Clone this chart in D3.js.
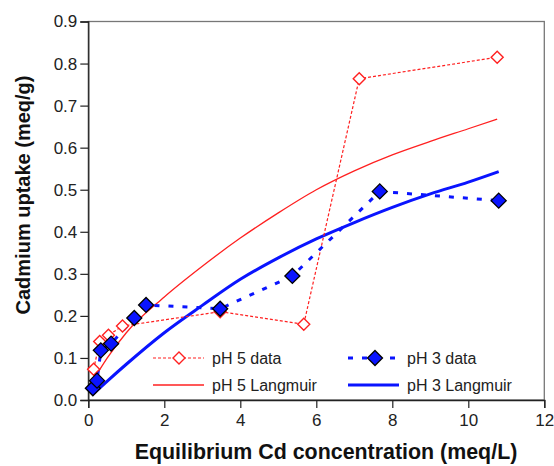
<!DOCTYPE html>
<html><head><meta charset="utf-8">
<script src="https://cdn.jsdelivr.net/npm/d3@7"></script>
<style>
html,body{margin:0;padding:0;background:#fff;}
text{font-family:"Liberation Sans",Arial,sans-serif;}
</style></head>
<body>
<svg id="chart" width="554" height="466"></svg>
<script>
// Data
const ph5X = [0.14, 0.30, 0.53, 0.90, 3.47, 5.67, 7.13, 10.76];
const ph5Y = [0.073, 0.139, 0.154, 0.176, 0.210, 0.180, 0.764, 0.815];
const ph3X = [0.12, 0.23, 0.33, 0.60, 1.21, 1.52, 3.47, 5.37, 7.67, 10.80];
const ph3Y = [0.028, 0.046, 0.118, 0.134, 0.195, 0.226, 0.217, 0.295, 0.496, 0.474];
const lang5X = [0.05, 0.5, 1, 2, 3, 4, 5, 6, 7, 8, 9, 10, 10.76];
const lang5Y = [0.035, 0.100, 0.160, 0.245, 0.318, 0.385, 0.445, 0.500, 0.545, 0.583, 0.615, 0.645, 0.668];
const lang3X = [0.1, 0.5, 1, 2, 3, 4, 5, 6, 7, 8, 9, 10, 10.8];
const lang3Y = [0.012, 0.045, 0.085, 0.160, 0.225, 0.287, 0.338, 0.383, 0.422, 0.458, 0.490, 0.518, 0.543];
const xTicks = [0, 2, 4, 6, 8, 10, 12];
const yTicks = [0, 0.1, 0.2, 0.3, 0.4, 0.5, 0.6, 0.7, 0.8, 0.9];
const legendLabels = ["pH 5 data", "pH 3 data", "pH 5 Langmuir", "pH 3 Langmuir"];

const svg = d3.select("#chart");
const L = 88.3, R = 544.3, T = 21.5, B = 400;
const x = d3.scaleLinear().domain([0, 12]).range([L, R]);
const y = d3.scaleLinear().domain([0, 0.9]).range([B, T]);

// frame
svg.append("rect").attr("x", L).attr("y", T).attr("width", R - L).attr("height", B - T)
  .attr("fill", "none").attr("stroke", "#777").attr("stroke-width", 1.3);

// axes
const xAxis = svg.append("g").attr("transform", `translate(0,${B})`)
  .call(d3.axisBottom(x).tickValues(xTicks).tickFormat(d3.format("d")).tickSize(8).tickPadding(6));
const yAxis = svg.append("g").attr("transform", `translate(${L},0)`)
  .call(d3.axisLeft(y).tickValues(yTicks).tickFormat(d3.format(".1f")).tickSize(8).tickPadding(3));
[xAxis, yAxis].forEach(g => {
  g.select(".domain").attr("stroke", "#222").attr("stroke-width", 1.3);
  g.selectAll(".tick line").attr("stroke", "#222").attr("stroke-width", 1.2);
  g.selectAll(".tick text").attr("font-size", 17).attr("fill", "#222")
    .style("font-family", "'Liberation Sans', Arial, sans-serif");
});

// axis titles
svg.append("text").attr("x", 326).attr("y", 459).attr("text-anchor", "middle")
  .attr("font-size", 21.4).attr("font-weight", "bold").attr("fill", "#111")
  .text("Equilibrium Cd concentration (meq/L)");
svg.append("text").attr("transform", "translate(30,195) rotate(-90)").attr("text-anchor", "middle")
  .attr("font-size", 20).attr("font-weight", "bold").attr("fill", "#111")
  .text("Cadmium uptake (meq/g)");

const line = d3.line().x(d => x(d[0])).y(d => y(d[1]));
const lang5 = lang5X.map((v, i) => [v, lang5Y[i]]);
const lang3 = lang3X.map((v, i) => [v, lang3Y[i]]);
const d5 = ph5X.map((v, i) => [v, ph5Y[i]]);
const d3s = ph3X.map((v, i) => [v, ph3Y[i]]);

const lineCurve = d3.line().x(d => x(d[0])).y(d => y(d[1])).curve(d3.curveMonotoneX);
svg.append("path").attr("d", lineCurve(lang5)).attr("fill", "none").attr("stroke", "#ff2020").attr("stroke-width", 1.3);
svg.append("path").attr("d", lineCurve(lang3)).attr("fill", "none").attr("stroke", "#0a14ff").attr("stroke-width", 3);

svg.append("path").attr("d", line(d5)).attr("fill", "none").attr("stroke", "#ff2020")
  .attr("stroke-width", 1.2).attr("stroke-dasharray", "3,2");
svg.append("path").attr("d", line(d3s)).attr("fill", "none").attr("stroke", "#0a14ff")
  .attr("stroke-width", 3).attr("stroke-dasharray", "5,9");

const diamond = (s) => `M0,${-s}L${s},0L0,${s}L${-s},0Z`;
svg.append("g").selectAll("path").data(d5).join("path")
  .attr("transform", d => `translate(${x(d[0])},${y(d[1])})`)
  .attr("d", diamond(6)).attr("fill", "#fff").attr("stroke", "#ff2020").attr("stroke-width", 1.4);
svg.append("g").selectAll("path").data(d3s).join("path")
  .attr("transform", d => `translate(${x(d[0])},${y(d[1])})`)
  .attr("d", diamond(7.5)).attr("fill", "#0a14ff").attr("stroke", "#000").attr("stroke-width", 1.3);

// legend
const lg = svg.append("g");
const items = [
  {lx: 153, ly: 358, color: "#ff2020", w: 1.2, dash: "3,2", marker: "open", label: legendLabels[0]},
  {lx: 348, ly: 358, color: "#0a14ff", w: 3, dash: "5,9", marker: "fill", label: legendLabels[1]},
  {lx: 153, ly: 385, color: "#ff2020", w: 1.3, dash: null, marker: null, label: legendLabels[2]},
  {lx: 348, ly: 385, color: "#0a14ff", w: 3, dash: null, marker: null, label: legendLabels[3]}
];
items.forEach(it => {
  const ln = lg.append("line").attr("x1", it.lx).attr("x2", it.lx + 51).attr("y1", it.ly).attr("y2", it.ly)
    .attr("stroke", it.color).attr("stroke-width", it.w);
  if (it.dash) ln.attr("stroke-dasharray", it.dash);
  if (it.marker === "open") lg.append("path").attr("transform", `translate(${it.lx + 26},${it.ly})`)
    .attr("d", diamond(6)).attr("fill", "#fff").attr("stroke", it.color).attr("stroke-width", 1.4);
  if (it.marker === "fill") lg.append("path").attr("transform", `translate(${it.lx + 27},${it.ly})`)
    .attr("d", diamond(7.5)).attr("fill", it.color).attr("stroke", "#000").attr("stroke-width", 1.3);
  lg.append("text").attr("x", it.lx + 59).attr("y", it.ly).attr("dy", "0.35em")
    .attr("font-size", 16).attr("fill", "#222").text(it.label);
});
</script>
</body></html>
